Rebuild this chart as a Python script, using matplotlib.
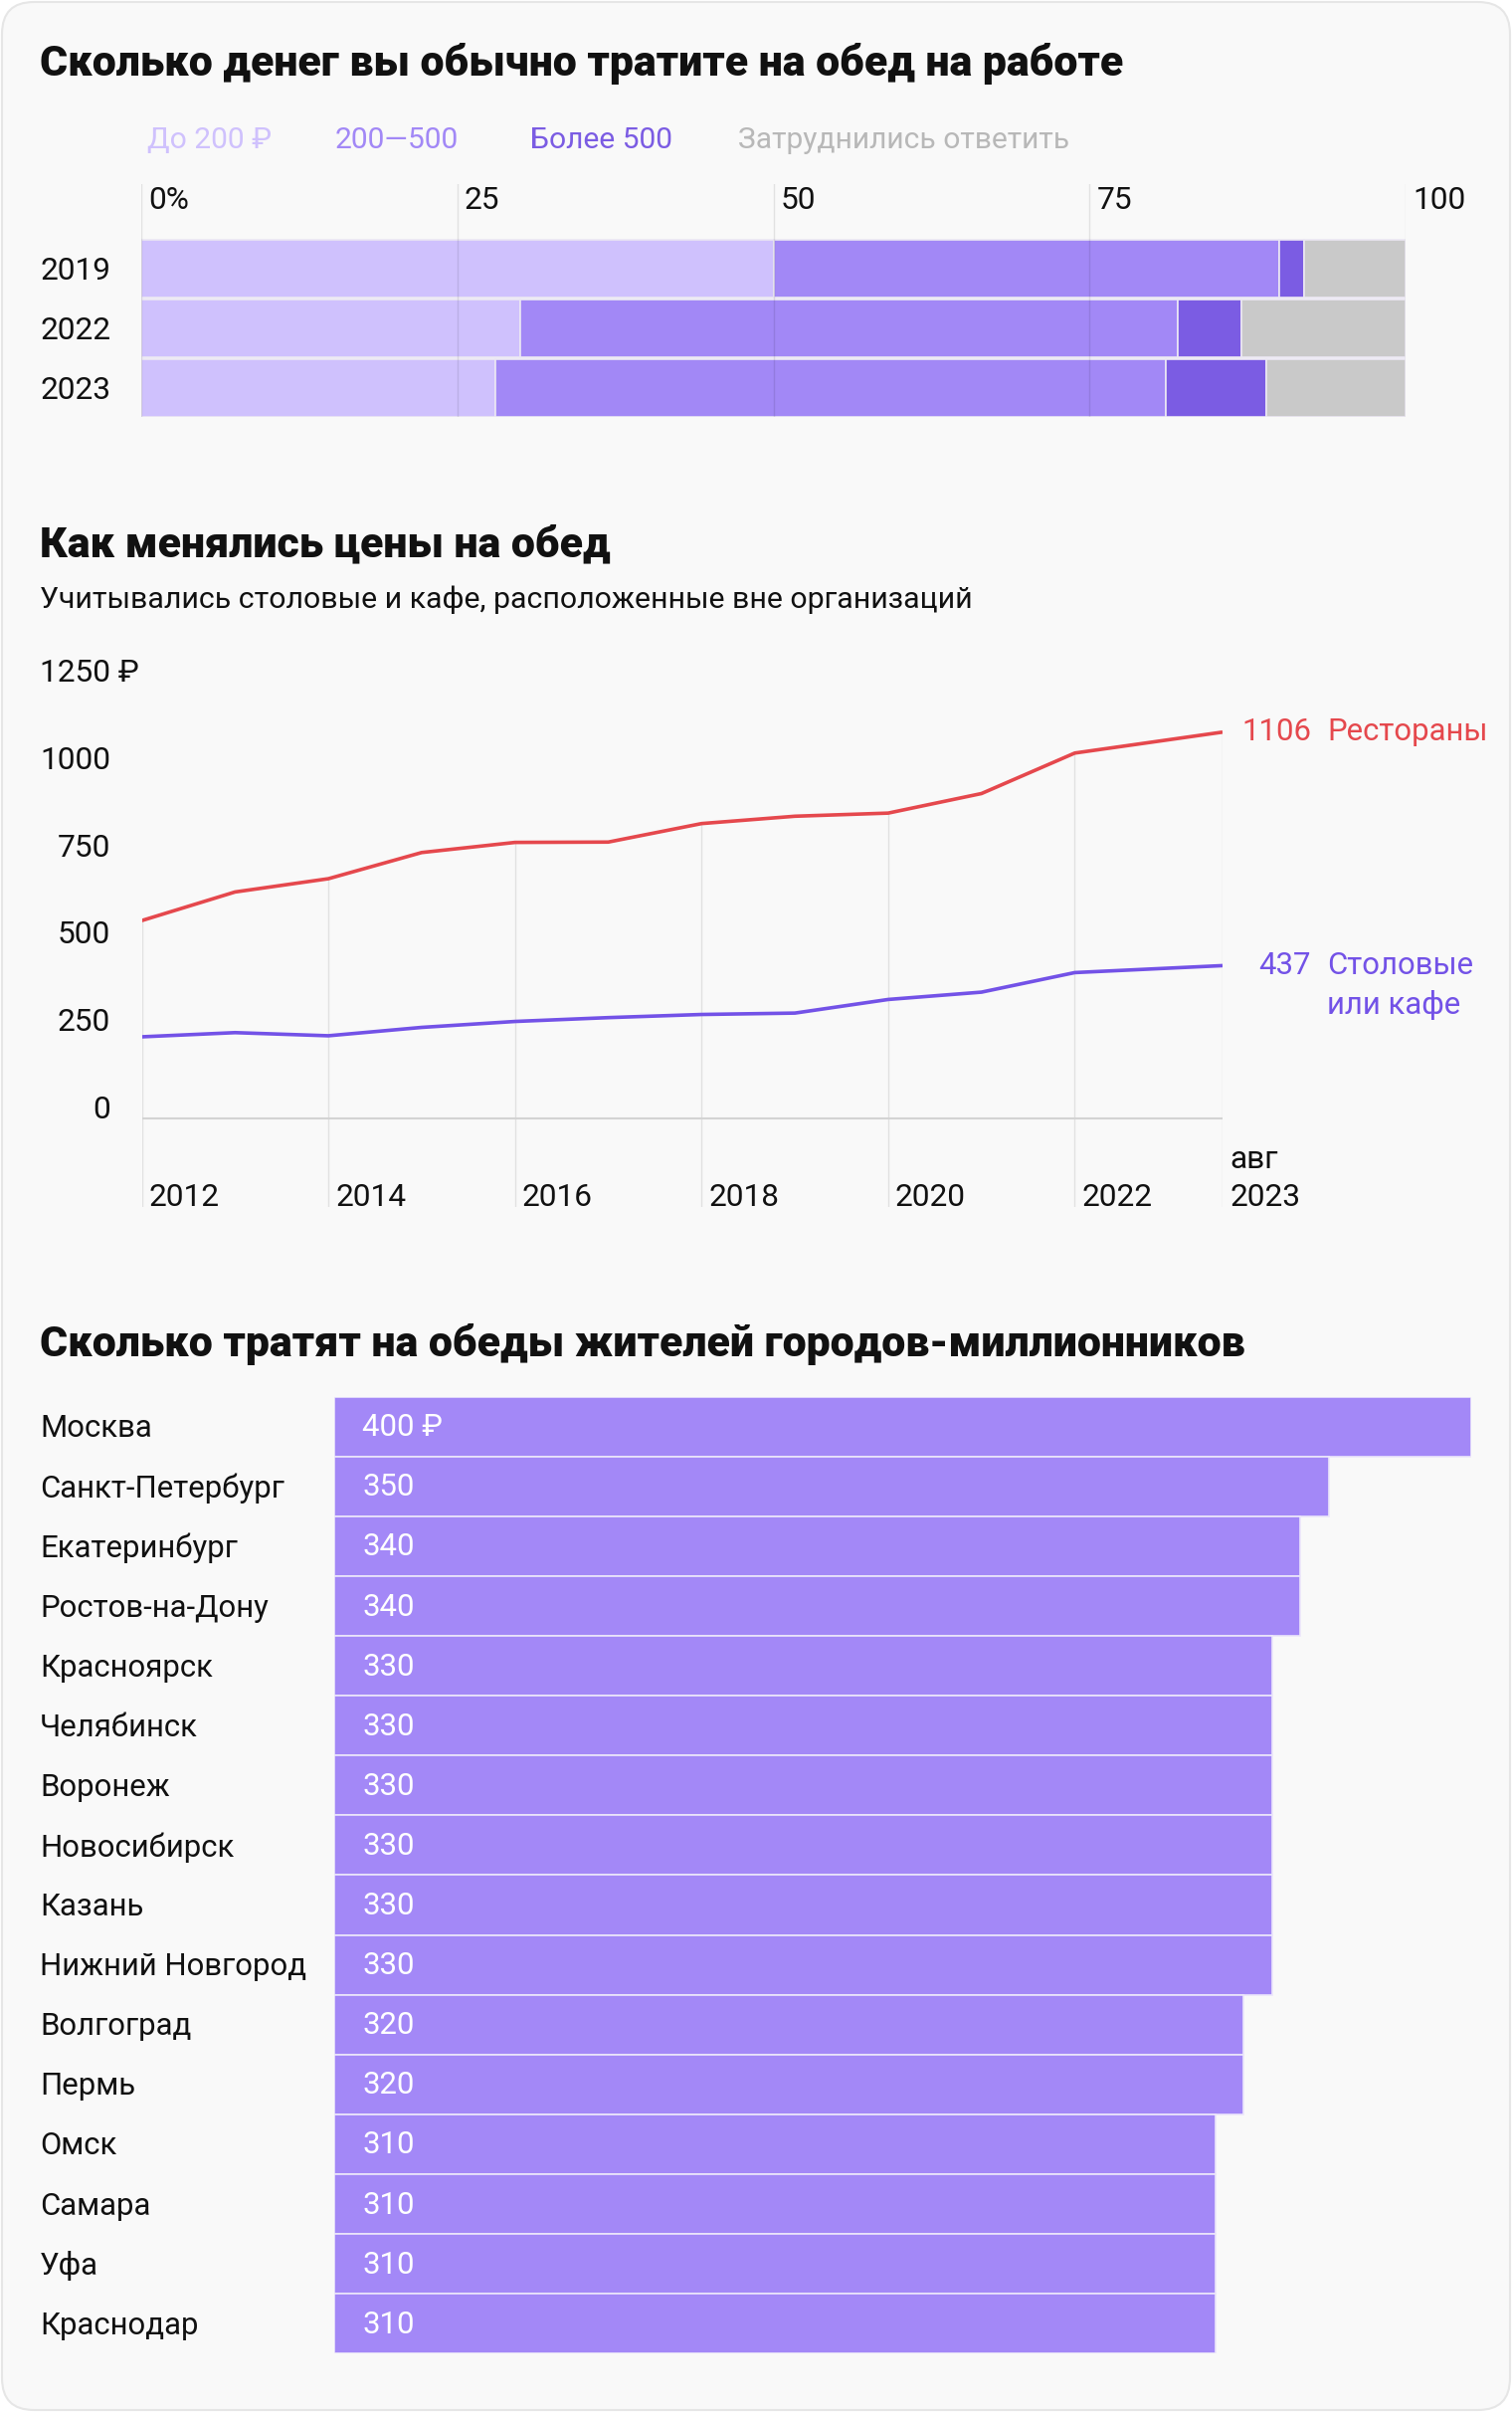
import matplotlib
matplotlib.use('Agg')
import matplotlib.pyplot as plt
import matplotlib.transforms as mtransforms
from matplotlib.patches import FancyBboxPatch

# ---------------- data ----------------
share_years = ['2019', '2022', '2023']
share_labels = ['До 200 ₽', '200—500', 'Более 500', 'Затруднились ответить']
share_lt200 = [50, 30, 28]
share_200_500 = [40, 52, 53]
share_gt500 = [2, 5, 8]
share_na = [8, 13, 11]
share_ticks = [0, 25, 50, 75, 100]
share_tick_labels = ['0%', '25', '50', '75', '100']

price_year = [2012, 2013, 2014, 2015, 2016, 2017, 2018, 2019, 2020, 2021, 2022, 2023]
price_month = [1, 1, 1, 1, 1, 1, 1, 1, 1, 1, 1, 8]
restaurants = [566, 648, 686, 761, 790, 791, 844, 865, 874, 930, 1046, 1106]
canteens = [233, 245, 236, 260, 277, 288, 297, 301, 340, 361, 417, 437]
price_yticks = [0, 250, 500, 750, 1000, 1250]
price_ytick_labels = ['0', '250', '500', '750', '1000', '1250 ₽']
price_xtick_labels = ['2012', '2014', '2016', '2018', '2020', '2022', 'авг\n2023']

cities = ['Москва', 'Санкт-Петербург', 'Екатеринбург', 'Ростов-на-Дону', 'Красноярск',
          'Челябинск', 'Воронеж', 'Новосибирск', 'Казань', 'Нижний Новгород',
          'Волгоград', 'Пермь', 'Омск', 'Самара', 'Уфа', 'Краснодар']
city_spend = [400, 350, 340, 340, 330, 330, 330, 330, 330, 330, 320, 320, 310, 310, 310, 310]

# ---------------- style ----------------
W, H, DPI = 1520, 2424, 100
FONT = ['Roboto', 'Noto Sans', 'DejaVu Sans']
plt.rcParams['font.family'] = FONT
C_LIGHT, C_MID, C_DARK, C_GREY = '#cfc1fd', '#a288f6', '#7b5ce3', '#c9c9c9'
C_RED, C_PURPLE = '#e5484d', '#7352e7'
TXT = '#111111'
TW = 'heavy'

fig = plt.figure(figsize=(W / DPI, H / DPI), dpi=DPI)
fig.patch.set_facecolor('white')
P = mtransforms.Affine2D().scale(1 / W, -1 / H).translate(0, 1) + fig.transFigure


def px_axes(left, top, right, bottom):
    return fig.add_axes([left / W, 1 - bottom / H, (right - left) / W, (bottom - top) / H])


renderer = fig.canvas.get_renderer()


def fit_size(s, target, weight='normal', ref=20):
    t = fig.text(0, 0, s, fontsize=ref, fontweight=weight)
    w = t.get_window_extent(renderer).width
    t.remove()
    return ref * target / w


TITLE = fit_size('Сколько денег вы обычно тратите на обед на работе', 1090, TW)
BODY = (fit_size('Санкт-Петербург', 249) + fit_size('Нижний Новгород', 263)
        + fit_size('Екатеринбург', 200)) / 3
SUB = fit_size('Учитывались столовые и кафе, расположенные вне организаций', 936)
LEG = fit_size('Затруднились ответить', 334)
TICK = fit_size('2012', 71)

# background card
bg = fig.add_axes([0, 0, 1, 1])
bg.set_xlim(0, W)
bg.set_ylim(H, 0)
bg.axis('off')
bg.add_patch(FancyBboxPatch((2, 2), W - 4, H - 4, boxstyle='round,pad=0,rounding_size=32',
                            facecolor='#f9f9f9', edgecolor='#e6e6e6', linewidth=1.5))

# ---------------- chart 1 ----------------
fig.text(40, 64, 'Сколько денег вы обычно тратите на обед на работе', transform=P,
         fontsize=TITLE, fontweight=TW, color=TXT, va='center')
leg_x = [148, 337, 533, 742]
for lab, col, x in zip(share_labels, [C_LIGHT, C_MID, C_DARK, '#b8b8b8'], leg_x):
    fig.text(x, 141, lab, transform=P, fontsize=LEG, color=col, va='center')

ax1 = px_axes(142, 185, 1413, 419.5)
ax1.set_xlim(0, 100)
ax1.set_ylim(2.49, -1.417)
ax1.axis('off')
rows = list(range(len(share_years)))
left = [0] * 3
for vals, col in zip([share_lt200, share_200_500, share_gt500, share_na],
                     [C_LIGHT, C_MID, C_DARK, C_GREY]):
    ax1.barh(rows, vals, left=left, height=0.975, color=col, edgecolor='#ebe7f3',
             linewidth=1.2, zorder=2)
    left = [a + b for a, b in zip(left, vals)]
for t in share_ticks:
    ax1.axvline(t, color=(0, 0, 0, 0.09), lw=1.0, zorder=3)
bt1 = mtransforms.blended_transform_factory(ax1.transData, P)
off7 = mtransforms.ScaledTranslation(7 / DPI, 0, fig.dpi_scale_trans)
for t, lab in zip(share_ticks, share_tick_labels):
    ax1.text(t, 202, lab, transform=bt1 + off7, fontsize=TICK, color=TXT,
             ha='left', va='center')
yl1 = mtransforms.blended_transform_factory(P, ax1.transData)
off_dn = mtransforms.ScaledTranslation(0, -2 / DPI, fig.dpi_scale_trans)
for r, y in zip(rows, share_years):
    ax1.text(40, r, y, transform=yl1 + off_dn, fontsize=TICK, color=TXT, ha='left', va='center')

# ---------------- chart 2 ----------------
fig.text(40, 548, 'Как менялись цены на обед', transform=P, fontsize=TITLE,
         fontweight=TW, color=TXT, va='center')
fig.text(40, 603, 'Учитывались столовые и кафе, расположенные вне организаций',
         transform=P, fontsize=SUB, color=TXT, va='center')

xs = [y + (m - 1) / 12 for y, m in zip(price_year, price_month)]
ax2 = px_axes(142.5, 660, 1229, 1213)
ax2.set_xlim(xs[0], xs[-1])
ax2.set_ylim(-254.6, 1322)
ax2.axis('off')
grid_idx = [0, 2, 4, 6, 8, 10, 11]
for i in grid_idx:
    ax2.vlines(xs[i], -254.6, restaurants[i], color='#e1e1e1', lw=1.0, zorder=1)
ax2.hlines(0, xs[0], xs[-1], color='#d3d3d3', lw=1.5, zorder=1)
ax2.plot(xs, restaurants, color=C_RED, lw=2.6, zorder=3, solid_capstyle='butt')
ax2.plot(xs, canteens, color=C_PURPLE, lw=2.6, zorder=3, solid_capstyle='butt')

yt2 = mtransforms.blended_transform_factory(P, ax2.transData)
for v, lab in zip(price_yticks, price_ytick_labels):
    if lab.endswith('₽'):
        ax2.text(40, v, lab, transform=yt2, fontsize=TICK, color=TXT, ha='left', va='baseline')
    else:
        ax2.text(111, v, lab, transform=yt2, fontsize=TICK, color=TXT, ha='right', va='baseline')
xt2 = mtransforms.blended_transform_factory(ax2.transData, P)
for i, lab in zip(grid_idx, price_xtick_labels):
    if '\n' in lab:
        a, b = lab.split('\n')
        ax2.text(xs[i], 1165, a, transform=xt2 + off7, fontsize=TICK, color=TXT,
                 ha='left', va='center')
        ax2.text(xs[i], 1204, b, transform=xt2 + off7, fontsize=TICK, color=TXT,
                 ha='left', va='center')
    else:
        ax2.text(xs[i], 1204, lab, transform=xt2 + off7, fontsize=TICK, color=TXT,
                 ha='left', va='center')
ax2.text(1318, restaurants[-1], str(restaurants[-1]), transform=yt2, fontsize=BODY,
         color=C_RED, ha='right', va='center')
ax2.text(1334, restaurants[-1], 'Рестораны', transform=yt2, fontsize=BODY,
         color=C_RED, ha='left', va='center')
ax2.text(1318, canteens[-1], str(canteens[-1]), transform=yt2, fontsize=BODY,
         color=C_PURPLE, ha='right', va='center')
ax2.text(1334, canteens[-1], 'Столовые', transform=yt2, fontsize=BODY,
         color=C_PURPLE, ha='left', va='center')
down40 = mtransforms.ScaledTranslation(0, -40 / DPI, fig.dpi_scale_trans)
ax2.text(1334, canteens[-1], 'или кафе', transform=yt2 + down40, fontsize=BODY,
         color=C_PURPLE, ha='left', va='center')

# ---------------- chart 3 ----------------
fig.text(40, 1351, 'Сколько тратят на обеды жителей городов-миллионников', transform=P,
         fontsize=TITLE, fontweight=TW, color=TXT, va='center')
ax3 = px_axes(335.5, 1403.65, 1479, 2365.3)
ax3.set_xlim(0, 400)
ax3.set_ylim(len(cities) - 0.5, -0.5)
ax3.axis('off')
r3 = list(range(len(cities)))
ax3.barh(r3, city_spend, height=1.0, color='#a388f7', edgecolor='#ece6fb', linewidth=1.2)
off29 = mtransforms.ScaledTranslation(29 / DPI, -1 / DPI, fig.dpi_scale_trans)
yl3 = mtransforms.blended_transform_factory(P, ax3.transData)
for i, (c, v) in enumerate(zip(cities, city_spend)):
    ax3.text(0, i, f'{v} ₽' if i == 0 else str(v), transform=ax3.transData + off29,
             fontsize=BODY, color='white', ha='left', va='center')
    ax3.text(40, i, c, transform=yl3 + off_dn, fontsize=BODY, color=TXT, ha='left', va='center')

fig.savefig('out.png', dpi=DPI, facecolor='white')
